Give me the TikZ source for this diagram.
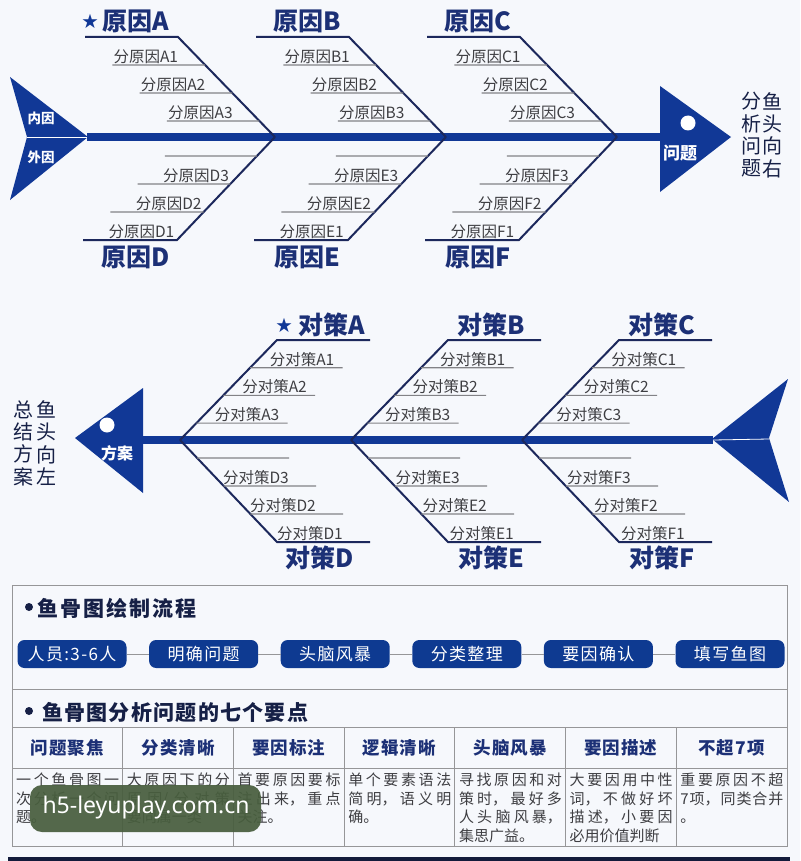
\documentclass[tikz,border=0pt]{standalone}
\usepackage{fontspec}
\setmainfont{Noto Sans CJK SC}
\newfontfamily\wmfont{Noto Sans}
\usetikzlibrary{calc,positioning}

\XeTeXlinebreaklocale "zh"
\XeTeXlinebreakskip=0pt plus 5pt

\definecolor{fishblue}{RGB}{17,56,150}
\definecolor{bonenavy}{RGB}{28,40,92}
\definecolor{labelblue}{RGB}{28,48,118}
\definecolor{subgray}{RGB}{62,62,66}
\definecolor{linegray}{RGB}{130,130,134}
\definecolor{pageback}{RGB}{246,248,252}
\definecolor{boxgray}{RGB}{150,150,152}
\definecolor{pillblue}{RGB}{14,58,145}
\definecolor{headnavy}{RGB}{22,32,70}
\definecolor{wmgreen}{RGB}{72,94,62}

\def\bonesep{171}
\def\colw{110.7}

\begin{document}
\begin{tikzpicture}[x=1pt,y=-1pt]
		\tikzstyle{spine}=[line width=8.5, fishblue]
		\tikzstyle{bone}=[line width=2, bonenavy]
		\tikzstyle{subbone}=[line width=1.1, linegray]
		\tikzstyle{sublabel}=[inner sep=1pt, text=subgray, font=\fontsize{15.5}{18}\selectfont]
		\tikzstyle{biglabel}=[inner sep=0pt, text=labelblue, font=\bfseries\fontsize{25}{28}\selectfont]
		\tikzstyle{starmark}=[inner sep=0pt, text=fishblue, font=\fontsize{16}{18}\selectfont]
		\tikzstyle{finlabel}=[inner sep=0pt, text=white, font=\bfseries\fontsize{13.5}{15}\selectfont]
		\tikzstyle{sidetext}=[inner sep=0pt, align=center, text=headnavy, font=\fontsize{20}{22.3}\selectfont]
		\tikzstyle{boxline}=[line width=1, boxgray]
		\tikzstyle{flowline}=[line width=0.8, boxgray]
		\tikzstyle{pill}=[rounded corners=7, fill=pillblue, text=white, minimum width=109, minimum height=28, inner sep=0pt, font=\fontsize{17}{20}\selectfont\addfontfeature{LetterSpace=8}]
		\tikzstyle{heading}=[inner sep=0pt, anchor=west, text=headnavy, font=\bfseries\fontsize{21}{24}\selectfont]
		\tikzstyle{dot}=[circle, fill=headnavy, inner sep=0pt, minimum size=8]
		\tikzstyle{colhead}=[inner sep=0pt, text=labelblue, font=\bfseries\fontsize{17.5}{20}\selectfont\addfontfeature{LetterSpace=6}]
		\tikzstyle{colbody}=[inner sep=0pt, anchor=north west, text width=103, align=justify, text=subgray, font=\fontsize{15}{18.5}\selectfont]

		\useasboundingbox (0,0) rectangle (800,861);
		\fill[pageback] (0,0) rectangle (800,861);

			% Upper fish: cause analysis, head to the right
		\coordinate (tail-1) at (87,137);
		\coordinate (head-1) at (662,137);
		\draw[spine] (tail-1) -- (head-1);
		\fill[fishblue] (10,77) -- (88,137) -- (10,200) -- (27,137) -- cycle;
		\draw[white, line width=0.8] (27,137) -- (tail-1);
		\fill[fishblue] (660,86) -- (731,137) -- (660,192) -- cycle;
		\fill[white] (688,123) circle (7.5);
		\node[finlabel] (neiyin) at (41,118) {内因};
		\node[finlabel] (waiyin) at (41,157) {外因};
		\node[finlabel, font=\bfseries\fontsize{17}{19}\selectfont] (wenti) at (680,153) {问题};
		\node[sidetext] (fenxi) at (751,135) {分\\析\\问\\题};
		\node[sidetext] (yutou-r) at (772,135) {鱼\\头\\向\\右};

			% Draw the upper bones A, B, C
		\foreach \name / \i in {A/0,B/1,C/2}
		{
		\coordinate (U\name-0) at (85+\i*\bonesep,37);
		\coordinate (U\name-k) at (178+\i*\bonesep,37);
		\coordinate (U\name-s) at (275+\i*\bonesep,137);
		\draw[bone] (U\name-0) -- (U\name-k) -- (U\name-s);
		\node[biglabel] (U\name-t) at (136+\i*\bonesep,21) {原因\name};
		\foreach \j in {1,2,3}
		{
		\coordinate (U\name\j-a) at (85+\i*\bonesep+27.3*\j,37+28*\j);
		\coordinate (U\name\j-b) at ($(U\name-k)!{0.28*\j}!(U\name-s)$);
		\draw[subbone] (U\name\j-a) -- (U\name\j-b);
		\node[sublabel, anchor=south west] (U\name\j-t) at (U\name\j-a) {分原因\name\j};
		}
		}
		\node[starmark] (star-1) at (90,21) {★};

			% Draw the lower bones D, E, F
		\foreach \name / \i in {D/0,E/1,F/2}
		{
		\coordinate (L\name-0) at (83+\i*\bonesep,240);
		\coordinate (L\name-k) at (177+\i*\bonesep,240);
		\coordinate (L\name-s) at (275+\i*\bonesep,137);
		\draw[bone] (L\name-0) -- (L\name-k) -- (L\name-s);
		\node[biglabel] (L\name-t) at (136+\i*\bonesep,257) {原因\name};
		\foreach \j in {1,2,3}
		{
		\coordinate (L\name\j-a) at (83+\i*\bonesep+27.3*\j,240-28*\j);
		\coordinate (L\name\j-b) at ($(L\name-k)!{28*\j/103}!(L\name-s)$);
		\draw[subbone] (L\name\j-a) -- (L\name\j-b);
		\node[sublabel, anchor=south west] (L\name\j-t) at (80+\i*\bonesep+27.3*\j,240-28*\j+28) {分原因\name\j};
		}
		}

			% Lower fish: counter-measures, head to the left
		\coordinate (head-2) at (143,440);
		\coordinate (tail-2) at (713,440);
		\draw[spine] (head-2) -- (tail-2);
		\fill[fishblue] (143,388) -- (143,493) -- (75,438) -- cycle;
		\fill[white] (107,425) circle (7.5);
		\fill[fishblue] (712,439) -- (788,379) -- (769,438) -- (789,502) -- cycle;
		\draw[white, line width=0.8] (tail-2) -- (769,439);
		\node[finlabel, font=\bfseries\fontsize{16}{18}\selectfont] (fangan) at (117,453) {方案};
		\node[sidetext] (zongjie) at (23,443) {总\\结\\方\\案};
		\node[sidetext] (yutou-l) at (46,443) {鱼\\头\\向\\左};

			% Draw the upper bones A, B, C
		\foreach \name / \i / \dx in {A/0/12,B/1/0,C/2/0}
		{
		\coordinate (S\name-s) at (180+\i*\bonesep,440);
		\coordinate (S\name-k) at (277+\i*\bonesep,340);
		\coordinate (S\name-0) at (370+\i*\bonesep,340);
		\draw[bone] (S\name-s) -- (S\name-k) -- (S\name-0);
		\node[biglabel] (S\name-t) at (320+\i*\bonesep+\dx,325) {对策\name};
		\foreach \j in {1,2,3}
		{
		\coordinate (S\name\j-a) at (370+\i*\bonesep-27.5*\j,340+27.7*\j);
		\coordinate (S\name\j-b) at ($(S\name-k)!{0.277*\j}!(S\name-s)$);
		\draw[subbone] (S\name\j-b) -- (S\name\j-a);
		\node[sublabel, anchor=south east] (S\name\j-t) at (363+\i*\bonesep-27.5*\j,340+27.7*\j) {分对策\name\j};
		}
		}
		\node[starmark] (star-2) at (284,325) {★};

			% Draw the lower bones D, E, F
		\foreach \name / \i in {D/0,E/1,F/2}
		{
		\coordinate (B\name-s) at (180+\i*\bonesep,440);
		\coordinate (B\name-k) at (277+\i*\bonesep,542);
		\coordinate (B\name-0) at (370+\i*\bonesep,542);
		\draw[bone] (B\name-s) -- (B\name-k) -- (B\name-0);
		\node[biglabel] (B\name-t) at (320+\i*\bonesep,558) {对策\name};
		\foreach \j in {1,2,3}
		{
		\coordinate (B\name\j-a) at (370+\i*\bonesep-27*\j,542-28*\j);
		\coordinate (B\name\j-b) at ($(B\name-k)!{28*\j/102}!(B\name-s)$);
		\draw[subbone] (B\name\j-b) -- (B\name\j-a);
		\node[sublabel, anchor=south east] (B\name\j-t) at (371+\i*\bonesep-27*\j,542-28*\j+28) {分对策\name\j};
		}
		}

			% Drawing steps
		\draw[boxline] (12,585) rectangle (787,846);
		\draw[boxline] (12,689) -- (787,689);
		\node[dot] (dot-1) at (29,607) {};
		\node[heading, font=\bfseries\fontsize{21}{24}\selectfont\addfontfeature{LetterSpace=10}] (step-title) at (37,608) {鱼骨图绘制流程};
		\foreach \n / \txt in {1/人员:3-6人,2/明确问题,3/头脑风暴,4/分类整理,5/要因确认,6/填写鱼图}
		\node[pill] (P-\n) at (72+131.6*\n-131.6,654) {\txt};
		\foreach \a / \b in {1/2,2/3,3/4,4/5,5/6}
		\draw[flowline] (P-\a) -- (P-\b);

			% Seven key points
		\node[dot] (dot-2) at (29,711) {};
		\node[heading, font=\bfseries\fontsize{21}{24}\selectfont\addfontfeature{LetterSpace=6}] (key-title) at (42,712) {鱼骨图分析问题的七个要点};
		\draw[boxline] (12,727) -- (787,727);
		\draw[boxline] (12,768) -- (787,768);
		\foreach \k in {1,...,6}
		\draw[boxline] (12+\k*\colw,727) -- (12+\k*\colw,846);
		\foreach \k / \head / \body in {
			1/问题聚焦/{一个鱼骨图一\linebreak 次分析一个问\linebreak 题。},
			2/分类清晰/{大原因下的分\linebreak 原因/分对策\linebreak 要同属一类},
			3/要因标注/{首要原因要标\linebreak 注出来，重点\linebreak 关注。},
			4/逻辑清晰/{单个要素语法\linebreak 简明，语义明\linebreak 确。},
			5/头脑风暴/{寻找原因和对\linebreak 策时，最好多\linebreak 人头脑风暴，\linebreak 集思广益。},
			6/要因描述/{大要因用中性\linebreak 词，不做好坏\linebreak 描述，小要因\linebreak 必用价值判断},
			7/不超7项/{重要原因不超\linebreak 7项，同类合并\linebreak 。}}
		{
		\node[colhead] (H-\k) at (12+\k*\colw-0.5*\colw,748) {\head};
		\node[colbody] (C-\k) at (16+\k*\colw-\colw,773) {\body};
		}

			% Watermark and the cut-off band below
		\fill[wmgreen, opacity=0.93, rounded corners=12] (30,785) rectangle (261,832);
		\node[text=white, inner sep=0pt, font=\wmfont\fontsize{23}{26}\selectfont] (wm) at (146,808) {h5-leyuplay.com.cn};
		\fill[headnavy!85!black] (8,857) rectangle (790,861);
\end{tikzpicture}
\end{document}
